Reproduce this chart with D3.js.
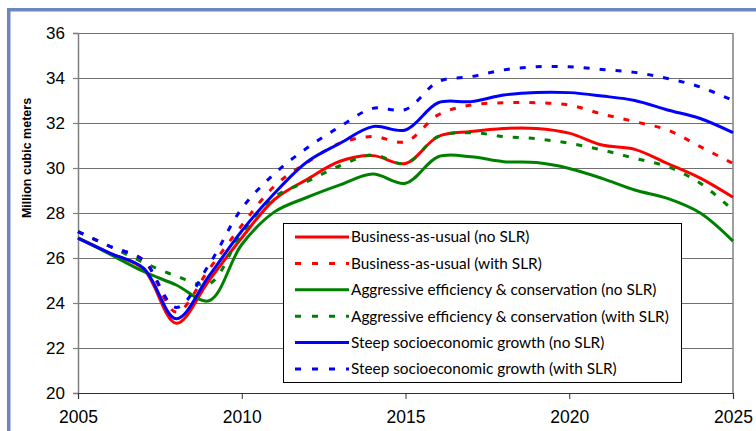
<!DOCTYPE html>
<html>
<head>
<meta charset="utf-8">
<script src="https://cdn.jsdelivr.net/npm/d3@7"></script>
<style>
  body { margin: 0; background: #fff; }
  svg { display: block; }
</style>
</head>
<body>
<div id="chart"></div>
<script>
const years = [2005, 2006, 2007, 2008, 2009, 2010, 2011, 2012, 2013, 2014, 2015,
               2016, 2017, 2018, 2019, 2020, 2021, 2022, 2023, 2024, 2025];

const busNoSlr   = [26.9, 26.2, 25.5, 23.1, 25.0, 26.9, 28.6, 29.5, 30.3, 30.55, 30.2,
                    31.4, 31.62, 31.76, 31.76, 31.55, 31.02, 30.83, 30.2, 29.55, 28.7];
const busSlr     = [27.17, 26.5, 25.9, 23.6, 25.5, 27.45, 29.2, 30.25, 31.1, 31.4, 31.17,
                    32.36, 32.8, 32.9, 32.9, 32.8, 32.4, 32.06, 31.69, 30.95, 30.2];
const aggNoSlr   = [26.9, 26.15, 25.4, 24.8, 24.1, 26.6, 28.05, 28.7, 29.25, 29.73, 29.32,
                    30.5, 30.5, 30.28, 30.24, 29.98, 29.54, 29.02, 28.65, 28.0, 26.75];
const aggSlr     = [27.17, 26.5, 25.8, 25.2, 24.85, 27.1, 28.72, 29.4, 30.1, 30.58, 30.2,
                    31.4, 31.57, 31.4, 31.3, 31.1, 30.8, 30.43, 30.06, 29.32, 28.13];
const steepNoSlr = [26.87, 26.2, 25.55, 23.3, 25.2, 27.2, 28.88, 30.28, 31.1, 31.84, 31.69,
                    32.9, 32.95, 33.24, 33.36, 33.35, 33.2, 33.0, 32.58, 32.2, 31.57];
const steepSlr   = [27.17, 26.5, 25.9, 23.8, 25.7, 28.2, 29.75, 30.9, 31.84, 32.65, 32.6,
                    33.84, 34.06, 34.36, 34.5, 34.5, 34.38, 34.25, 33.98, 33.6, 33.0];

const seriesNames = [
  "Business-as-usual (no SLR)",
  "Business-as-usual (with SLR)",
  "Aggressive efficiency & conservation (no SLR)",
  "Aggressive efficiency & conservation (with SLR)",
  "Steep socioeconomic growth (no SLR)",
  "Steep socioeconomic growth (with SLR)"
];
const seriesValues = [busNoSlr, busSlr, aggNoSlr, aggSlr, steepNoSlr, steepSlr];
const seriesColors = ["#ff0000", "#ff0000", "#008000", "#008000", "#0000ff", "#0000ff"];
const seriesDashed = [false, true, false, true, false, true];

const yTicks = [20, 22, 24, 26, 28, 30, 32, 34, 36];
const xTicks = [2005, 2010, 2015, 2020, 2025];
const yLabel = "Million cubic meters";

const width = 756, height = 431;
const margin = { top: 33, right: 23, bottom: 38, left: 78 };

const svg = d3.select("#chart").append("svg")
    .attr("width", width)
    .attr("height", height);

// frame border strips (blue-grey) on top and left
svg.append("rect").attr("x", 7).attr("y", 8).attr("width", width - 7).attr("height", 3.5)
    .attr("fill", "#6d86c3");
svg.append("rect").attr("x", 7).attr("y", 8).attr("width", 3.5).attr("height", height - 8)
    .attr("fill", "#6d86c3");

const x = d3.scaleLinear().domain([2005, 2025]).range([margin.left, width - margin.right]);
const y = d3.scaleLinear().domain([20, 36]).range([height - margin.bottom, margin.top]);

// gridlines
svg.append("g")
  .selectAll("line")
  .data(yTicks.filter(d => d > 20))
  .enter().append("line")
    .attr("x1", x(2005)).attr("x2", x(2025))
    .attr("y1", d => Math.round(y(d)) + 0.5).attr("y2", d => Math.round(y(d)) + 0.5)
    .attr("stroke", "#707070")
    .attr("stroke-width", 1.2);

// right edge of the plot area
svg.append("line")
    .attr("x1", x(2025)).attr("x2", x(2025))
    .attr("y1", y(36)).attr("y2", y(20))
    .attr("stroke", "#808080").attr("stroke-width", 1.5);

// y axis
const yAxis = svg.append("g")
    .attr("transform", `translate(${x(2005)},0)`)
    .call(d3.axisLeft(y).tickValues(yTicks).tickSize(5).tickPadding(8));
yAxis.select(".domain").attr("stroke", "#808080").attr("stroke-width", 1.5);
yAxis.selectAll(".tick line").attr("stroke", "#808080").attr("stroke-width", 1.2);
yAxis.selectAll("text")
    .attr("font-family", "'Liberation Sans', Arial, sans-serif")
    .attr("font-size", 17)
    .attr("fill", "#000");

// x axis
const xAxis = svg.append("g")
    .attr("transform", `translate(0,${y(20)})`)
    .call(d3.axisBottom(x).tickValues(xTicks).tickFormat(d3.format("d")).tickSize(6).tickPadding(12));
xAxis.select(".domain").attr("stroke", "#333").attr("stroke-width", 1.2);
xAxis.selectAll(".tick line").attr("stroke", "#333");
xAxis.selectAll("text")
    .attr("font-family", "'Liberation Sans', Arial, sans-serif")
    .attr("font-size", 17.5)
    .attr("fill", "#000");

svg.append("text")
    .attr("transform", "translate(31,158) rotate(-90)")
    .attr("text-anchor", "middle")
    .attr("font-family", "'Liberation Sans', Arial, sans-serif")
    .attr("font-weight", "bold")
    .attr("font-size", 12.5)
    .attr("fill", "#000")
    .text(yLabel);

// series lines
const line = d3.line()
    .x((d, i) => x(years[i]))
    .y(d => y(d))
    .curve(d3.curveCatmullRom.alpha(0.5));

svg.append("g")
  .selectAll("path")
  .data(seriesValues)
  .enter().append("path")
    .attr("d", line)
    .attr("fill", "none")
    .attr("stroke", (d, i) => seriesColors[i])
    .attr("stroke-width", 3)
    .attr("stroke-dasharray", (d, i) => seriesDashed[i] ? "6,10" : null)
    .attr("stroke-linejoin", "round");

// legend
const legend = svg.append("g");
legend.append("rect")
    .attr("x", 283.5).attr("y", 223.5)
    .attr("width", 398).attr("height", 159)
    .attr("fill", "#fff")
    .attr("stroke", "#000")
    .attr("stroke-width", 1);

const rows = legend.selectAll("g.row")
    .data(seriesNames)
    .enter().append("g")
    .attr("class", "row")
    .attr("transform", (d, i) => `translate(0,${237 + i * 26.4})`);

rows.append("line")
    .attr("x1", 295).attr("x2", 349)
    .attr("y1", 0).attr("y2", 0)
    .attr("stroke", (d, i) => seriesColors[i])
    .attr("stroke-width", 3)
    .attr("stroke-dasharray", (d, i) => seriesDashed[i] ? "6,11" : null);

const labels = rows.append("text")
    .attr("x", 351)
    .attr("y", 0)
    .attr("dy", "0.35em")
    .attr("font-family", "Lato, 'Open Sans', sans-serif")
    .attr("font-size", 15)
    .attr("fill", "#000")
    .text(d => d);

// fit the legend font to the width of the longest entry in the picture
const longest = labels.filter((d, i) => i === 3).node().getComputedTextLength();
labels.attr("font-size", 15 * 318 / longest);
</script>
</body>
</html>
